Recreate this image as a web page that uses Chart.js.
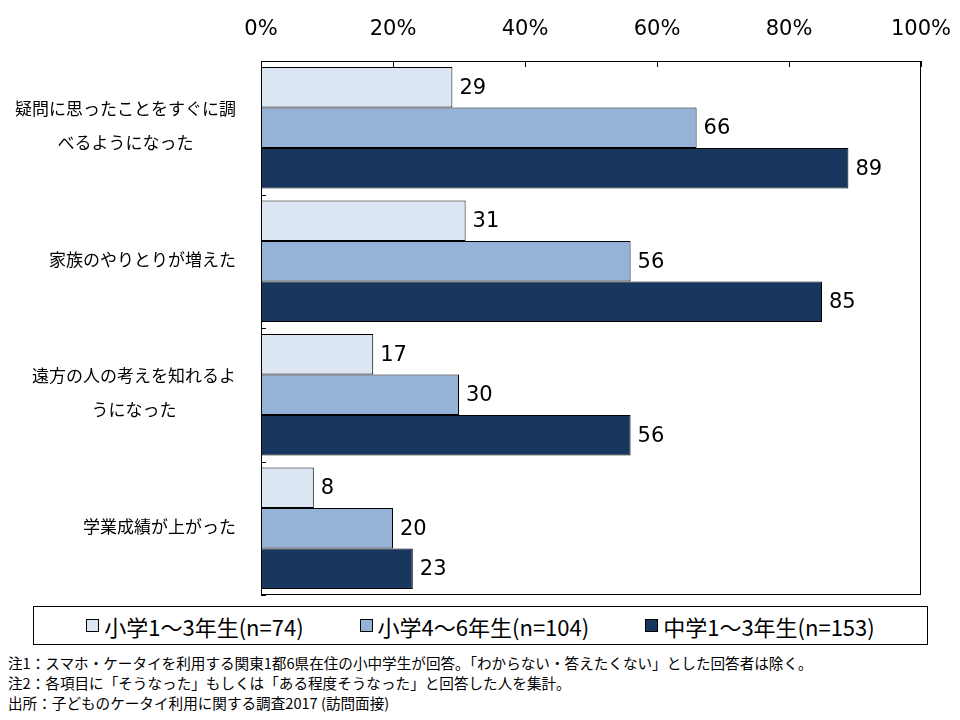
<!DOCTYPE html>
<html>
<head>
<meta charset="utf-8">
<script src="https://cdn.jsdelivr.net/npm/chart.js@4/dist/chart.umd.min.js"></script>
<style>
  body { margin: 0; background: #fff; width: 960px; height: 720px; position: relative; font-family: "Noto Sans CJK JP", sans-serif; }
  #wrap { position: absolute; left: 0; top: 0; width: 960px; height: 600px; }
  #legend { position: absolute; left: 33px; top: 606px; width: 893px; height: 37px; border: 1px solid #000;
            display: flex; align-items: center; justify-content: center; font-size: 22px; color: #000; }
  #legend .item { display: flex; align-items: center; margin: 0 28px; white-space: nowrap; }
  #legend .box { width: 11px; height: 11px; border: 1px solid #000; margin-right: 5px; }
  #notes { position: absolute; left: 8px; top: 653px; font-size: 14.6px; line-height: 20px; color: #000; }
</style>
</head>
<body>
<div id="wrap"><canvas id="chart"></canvas></div>
<div id="legend"></div>
<div id="notes">
  <div>注1：スマホ・ケータイを利用する関東1都6県在住の小中学生が回答。「わからない・答えたくない」とした回答者は除く。</div>
  <div>注2：各項目に「そうなった」もしくは「ある程度そうなった」と回答した人を集計。</div>
  <div>出所：子どものケータイ利用に関する調査2017 (訪問面接)</div>
</div>
<script>
const categories = [
  ['疑問に思ったことをすぐに調', 'べるようになった'],
  ['家族のやりとりが増えた'],
  ['遠方の人の考えを知れるよ', 'うになった'],
  ['学業成績が上がった']
];
const seriesNames = ['小学1～3年生(n=74)', '小学4～6年生(n=104)', '中学1～3年生(n=153)'];
const lowerGrades = [29, 31, 17, 8];
const upperGrades = [66, 56, 30, 20];
const juniorHigh = [89, 85, 56, 23];
const seriesColors = ['#DCE6F2', '#95B3D7', '#17375E'];

const numFamily = '"DejaVu Sans", Verdana, sans-serif';

const framePlugin = {
  id: 'frame',
  afterDatasetsDraw(chart) {
    const { ctx, chartArea: a, scales } = chart;
    ctx.save();

    // values next to bars
    ctx.font = '21px ' + numFamily;
    ctx.fillStyle = '#000';
    ctx.textAlign = 'left';
    ctx.textBaseline = 'middle';
    chart.data.datasets.forEach((ds, i) => {
      chart.getDatasetMeta(i).data.forEach((bar, j) => {
        ctx.fillText(String(ds.data[j]), bar.x + 7, bar.y + 1);
      });
    });

    // plot border
    ctx.strokeStyle = '#000';
    ctx.lineWidth = 1;
    ctx.strokeRect(Math.round(a.left) + 0.5, Math.round(a.top) + 0.5, Math.round(a.width) - 1, Math.round(a.height) - 1);

    // inward tick marks on top axis
    ctx.beginPath();
    scales.x.ticks.forEach(t => {
      const px = Math.round(scales.x.getPixelForValue(t.value)) + 0.5;
      ctx.moveTo(px, a.top);
      ctx.lineTo(px, a.top + 6);
    });
    // short marks between categories on left axis
    categories.forEach((c, i) => {
      const py = Math.round(scales.y.getPixelForValue(i + 0.5)) + 0.5;
      ctx.moveTo(a.left, py);
      ctx.lineTo(a.left + 5, py);
    });
    ctx.stroke();

    // category labels, lines centred on each other, block right aligned
    ctx.font = '17px "Noto Sans CJK JP", sans-serif';
    ctx.textAlign = 'center';
    const right = a.left - 25;
    const lh = 34;
    categories.forEach((lines, i) => {
      const w = Math.max(...lines.map(l => ctx.measureText(l).width));
      const cx = right - w / 2;
      const cy = scales.y.getPixelForValue(i) - 2;
      lines.forEach((l, k) => {
        ctx.fillText(l, cx, cy + (k - (lines.length - 1) / 2) * lh);
      });
    });
    ctx.restore();
  }
};

const datasets = [lowerGrades, upperGrades, juniorHigh].map((d, i) => ({
  label: seriesNames[i],
  data: d,
  backgroundColor: seriesColors[i],
  borderColor: '#000',
  borderWidth: 1,
  borderSkipped: false,
  categoryPercentage: 0.91,
  barPercentage: 1
}));

new Chart(document.getElementById('chart'), {
  type: 'bar',
  data: { labels: categories.map(c => c.join('')), datasets },
  options: {
    indexAxis: 'y',
    responsive: true,
    maintainAspectRatio: false,
    animation: false,
    layout: { padding: { left: 0, right: 39, top: 0, bottom: 5 } },
    plugins: { legend: { display: false }, tooltip: { enabled: false } },
    scales: {
      x: {
        position: 'top',
        min: 0,
        max: 100,
        ticks: { stepSize: 20, callback: v => v + '%', color: '#000', font: { family: numFamily, size: 21 }, padding: 19, maxRotation: 0 },
        grid: { display: false, drawTicks: false },
        border: { display: false },
        afterFit: s => { s.height = 61; s.paddingLeft = 0; s.paddingRight = 0; }
      },
      y: {
        ticks: { display: false },
        grid: { display: false, drawTicks: false },
        border: { display: false },
        afterFit: s => { s.width = 261; }
      }
    }
  },
  plugins: [framePlugin]
});

const legend = document.getElementById('legend');
seriesNames.forEach((name, i) => {
  const item = document.createElement('div');
  item.className = 'item';
  const box = document.createElement('span');
  box.className = 'box';
  box.style.background = seriesColors[i];
  const txt = document.createElement('span');
  txt.textContent = name;
  item.appendChild(box);
  item.appendChild(txt);
  legend.appendChild(item);
});
</script>
</body>
</html>
